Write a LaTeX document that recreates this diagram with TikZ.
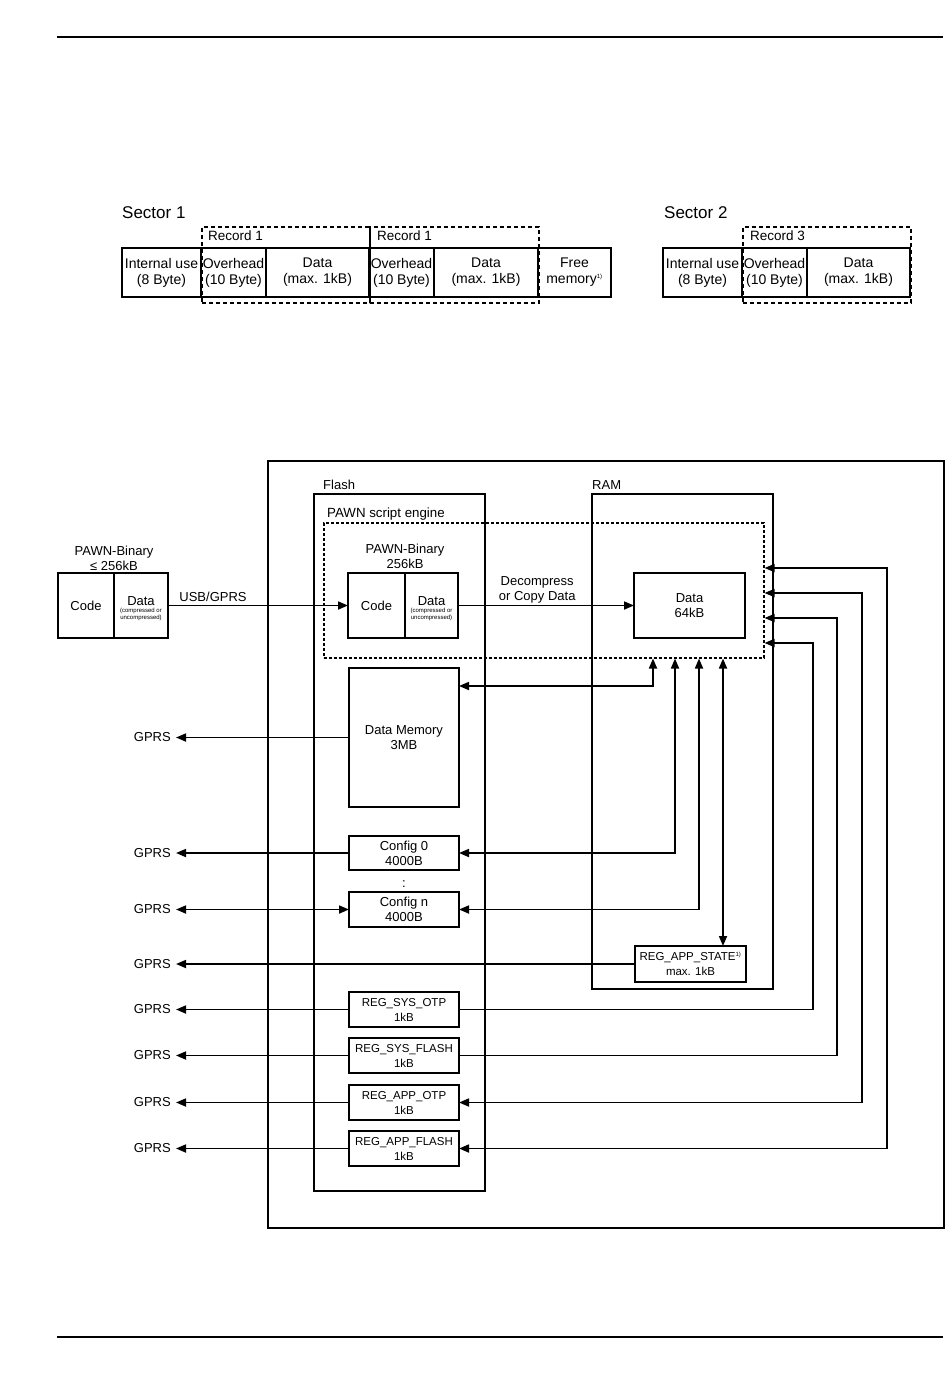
\documentclass[tikz,border=0pt]{standalone}
\usepackage{fontspec}
\setmainfont{Liberation Sans}
\usetikzlibrary{positioning,arrows.meta}

\begin{document}
\begin{tikzpicture}[
		x=1pt, y=-1pt
		,>={Triangle[length=10pt,width=8pt]}
		,txt/.style={inner sep=0pt, align=center, font=\fontsize{13}{15}\selectfont}
		,cell/.style={draw, line width=1.6pt, outer sep=0pt, minimum height=49pt, inner sep=1pt, align=center, font=\fontsize{14}{16}\selectfont}
		,rec/.style={draw, line width=1.5pt, dash pattern=on 4pt off 3pt, minimum height=76pt, inner sep=0pt, anchor=north west}
		,box/.style={draw, line width=1.7pt, outer sep=0pt, inner sep=1pt, align=center, font=\fontsize{13}{15}\selectfont}
		,reg/.style={box, minimum width=110pt, minimum height=35pt, anchor=north west, font=\fontsize{11.5}{15}\selectfont}
		,area/.style={draw, line width=1.7pt, inner sep=0pt, anchor=north west}
		,tiny/.style={inner sep=0pt, align=center, font=\fontsize{6}{7}\selectfont}
		,gp/.style={txt, anchor=east, inner xsep=5pt}
		,link/.style={line width=1.7pt}
	]
	\useasboundingbox (0,0) rectangle (950,1379);
	\draw[line width=2.2pt] (57,37) -- (943,37);
	\draw[line width=2.2pt] (57,1337) -- (943,1337);

	% sector 1
	\node[txt, anchor=base west, font=\fontsize{17}{20}\selectfont] (s1) at (122,218) {Sector 1};
	\node[rec, minimum width=168pt] (r1) at (201,226) {};
	\node[rec, minimum width=169pt] (r2) at (369,226) {};
	\node[txt, anchor=base west, font=\fontsize{13.5}{16}\selectfont] at ([shift={(7pt,-14pt)}]r1.north west) {Record 1};
	\node[txt, anchor=base west, font=\fontsize{13.5}{16}\selectfont] at ([shift={(8pt,-14pt)}]r2.north west) {Record 1};
	\node[cell, minimum width=79pt] (iu1) at (161.5,272.5) {Internal use\\(8 Byte)};
	\node[cell, minimum width=65pt, right=0pt of iu1] (oh1) {Overhead\\(10 Byte)};
	\node[cell, minimum width=103pt, right=0pt of oh1] (dt1) {Data\\(max. 1kB)};
	\node[cell, minimum width=65pt, right=0pt of dt1] (oh2) {Overhead\\(10 Byte)};
	\node[cell, minimum width=104pt, right=0pt of oh2] (dt2) {Data\\(max. 1kB)};
	\node[cell, minimum width=73pt, right=0pt of dt2] (fm) {Free\\memory\textsuperscript{\fontsize{6}{7}\selectfont 1)}};

	% sector 2
	\node[txt, anchor=base west, font=\fontsize{17}{20}\selectfont] (s2) at (664,218) {Sector 2};
	\node[rec, minimum width=168pt] (r3) at (742,226) {};
	\node[txt, anchor=base west, font=\fontsize{13.5}{16}\selectfont] at ([shift={(8pt,-14pt)}]r3.north west) {Record 3};
	\node[cell, minimum width=79pt] (iu2) at (702.5,272.5) {Internal use\\(8 Byte)};
	\node[cell, minimum width=65pt, right=0pt of iu2] (oh3) {Overhead\\(10 Byte)};
	\node[cell, minimum width=103pt, right=0pt of oh3] (dt3) {Data\\(max. 1kB)};

	% device
	\node[area, minimum width=676pt, minimum height=767pt] (dev) at (267,460) {};
	\node[area, minimum width=171pt, minimum height=697pt] (flash) at (313,493) {};
	\node[area, minimum width=181pt, minimum height=495pt] (ram) at (591,493) {};
	\node[area, line width=1.5pt, dash pattern=on 3pt off 2pt, minimum width=440pt, minimum height=135pt] (eng) at (323,522) {};
	\node[txt, above right=3pt and 10pt of flash.north west] {Flash};
	\node[txt, above right=3pt and 1pt of ram.north west] {RAM};
	\node[txt, font=\fontsize{13.3}{15}\selectfont, above right=1.5pt and 4pt of eng.north west] {PAWN script engine};

	% binaries
	\node[box, minimum width=56pt, minimum height=65pt, anchor=north west] (bcode) at (58,573) {Code};
	\node[box, minimum width=54pt, minimum height=65pt, right=0pt of bcode] (bdata) {};
	\node[txt] (bdt) at ([yshift=4pt]bdata.center) {Data};
	\node[tiny, below=2pt of bdt] {(compressed or\\uncompressed)};
	\node[txt, above=2pt of bcode.north east] {PAWN-Binary\\≤ 256kB};

	\node[box, minimum width=57pt, minimum height=65pt, anchor=north west] (pcode) at (348,573) {Code};
	\node[box, minimum width=53pt, minimum height=65pt, right=0pt of pcode] (pdata) {};
	\node[txt] (pdt) at ([yshift=4pt]pdata.center) {Data};
	\node[tiny, below=2pt of pdt] {(compressed or\\uncompressed)};
	\node[txt, above=4pt of pcode.north east] {PAWN-Binary\\256kB};

	\node[box, minimum width=111pt, minimum height=65pt, anchor=north west] (ramdat) at (634,573) {Data\\64kB};

	% memories
	\node[box, minimum width=110pt, minimum height=139pt, anchor=north west] (dmem) at (349,668) {Data Memory\\3MB};
	\node[reg, minimum height=34pt, font=\fontsize{13}{15}\selectfont] (cfg0) at (349,836) {Config 0\\4000B};
	\node[txt] (dots) at (404,884) {:};
	\node[reg, font=\fontsize{13}{15}\selectfont] (cfgn) at (349,892) {Config n\\4000B};
	\node[reg, minimum width=111pt, minimum height=36pt] (appst) at (635,946) {REG\_APP\_STATE\textsuperscript{\fontsize{6}{7}\selectfont 1)}\\max. 1kB};
	\node[reg] (sotp) at (349,992) {REG\_SYS\_OTP\\1kB};
	\node[reg] (sfl) at (349,1038) {REG\_SYS\_FLASH\\1kB};
	\node[reg] (aotp) at (349,1085) {REG\_APP\_OTP\\1kB};
	\node[reg] (afl) at (349,1131) {REG\_APP\_FLASH\\1kB};

	% GPRS outputs
	\coordinate (gx) at (176,0);
	\node[gp] (g1) at (gx |- dmem.west) {GPRS};
	\node[gp] (g2) at (gx |- cfg0.west) {GPRS};
	\node[gp] (g3) at (gx |- cfgn.west) {GPRS};
	\node[gp] (g4) at (gx |- appst.west) {GPRS};
	\node[gp] (g5) at (gx |- sotp.west) {GPRS};
	\node[gp] (g6) at (gx |- sfl.west) {GPRS};
	\node[gp] (g7) at (gx |- aotp.west) {GPRS};
	\node[gp] (g8) at (gx |- afl.west) {GPRS};
	\draw[link, ->] (dmem.west) -- (g1.east);
	\draw[link, ->] (cfg0.west) -- (g2.east);
	\draw[link, <->] (g3.east) -- (cfgn.west);
	\draw[link, ->] (appst.west) -- (g4.east);
	\draw[link, ->] (sotp.west) -- (g5.east);
	\draw[link, ->] (sfl.west) -- (g6.east);
	\draw[link, ->] (aotp.west) -- (g7.east);
	\draw[link, ->] (afl.west) -- (g8.east);

	% transfers
	\draw[link, ->] (bdata.east) -- node[txt, above=3pt, pos=0.25] {USB/GPRS} (pcode.west);
	\draw[link, ->] (pdata.east) -- node[txt, above=1pt, pos=0.45] {Decompress\\or Copy Data} (ramdat.west);

	% links to the script engine
	\coordinate (v1) at (653,686);
	\coordinate (v2) at (675,0);
	\coordinate (v3) at (699,0);
	\coordinate (v4) at (723,0);
	\draw[link, <->] (dmem.east |- v1) -- (v1) -- (v1 |- eng.south);
	\draw[link, <->] (cfg0.east) -| (v2 |- eng.south);
	\draw[link, <->] (cfgn.east) -| (v3 |- eng.south);
	\draw[link, <->] (v4 |- eng.south) -- (v4 |- appst.north);

	\coordinate (k1) at (813,643);
	\coordinate (k2) at (837,618);
	\coordinate (k3) at (862,593);
	\coordinate (k4) at (887,568);
	\draw[link, ->] (sotp.east) -| (k1) -- (k1 -| eng.east);
	\draw[link, ->] (sfl.east) -| (k2) -- (k2 -| eng.east);
	\draw[link, <->] (aotp.east) -| (k3) -- (k3 -| eng.east);
	\draw[link, <->] (afl.east) -| (k4) -- (k4 -| eng.east);
\end{tikzpicture}
\end{document}
